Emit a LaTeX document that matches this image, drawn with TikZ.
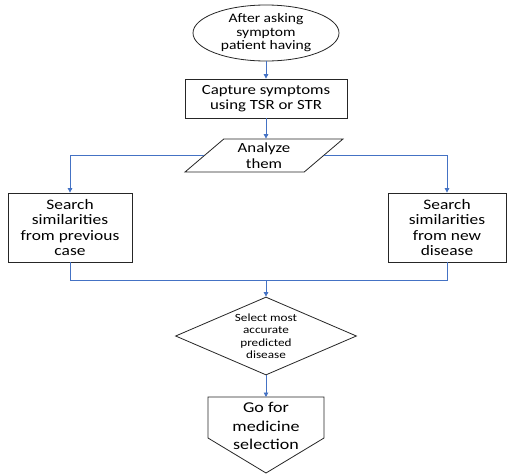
\documentclass[tikz,border=0pt]{standalone}
\usepackage{fontspec}
\setmainfont{Carlito}[FakeStretch=1.2]
\usetikzlibrary{shapes.geometric,arrows.meta}
\definecolor{lineblue}{HTML}{4472C4}
\definecolor{edge}{HTML}{262626}
\begin{document}
\begin{tikzpicture}[x=1pt,y=-1pt,
  shapebox/.style={draw=edge, line width=0.8pt, align=center, inner sep=0pt},
  flow/.style={draw=lineblue, line width=0.9pt},
  arr/.style={flow, -{Triangle[length=4.5pt,width=4.5pt]}},
]
\path[use as bounding box, fill=white] (0,0) rectangle (508,474);

\node[shapebox, ellipse, minimum width=146pt, minimum height=56pt,
  font=\fontsize{13}{13.5}\selectfont] (e) at (266,33) {After asking\\symptom\\patient having};

\node[shapebox, rectangle, minimum width=162pt, minimum height=39pt,
  font=\fontsize{14}{14.5}\selectfont] (cap) at (266,98.5) {Capture symptoms\\using TSR or STR};

\node[shapebox, trapezium, trapezium left angle=45, trapezium right angle=135,
  trapezium stretches=true, minimum width=158pt, minimum height=33pt,
  font=\fontsize{14}{15.5}\selectfont] (an) at (264,155.5) {Analyze\\them};

\node[shapebox, rectangle, minimum width=124pt, minimum height=69pt,
  font=\fontsize{14.5}{15.5}\selectfont] (lb) at (70,227.5) {Search\\similarities\\from previous\\case};

\node[shapebox, rectangle, minimum width=118pt, minimum height=69pt,
  font=\fontsize{14.5}{15.5}\selectfont] (rb) at (447,227.5) {Search\\similarities\\from new\\disease};

\node[shapebox, diamond, aspect=2.3, minimum width=181pt, minimum height=78pt,
  font=\fontsize{11}{12.5}\selectfont] (d) at (266,336) {Select most\\accurate\\predicted\\disease};

\coordinate (pnw) at (208,397);
\coordinate (pne) at (324,397);
\coordinate (pse) at (324,438);
\coordinate (psw) at (208,438);
\coordinate (ptip) at (266,473);
\coordinate (ptop) at (266,397);
\draw[draw=edge, line width=0.8pt] (pnw) -- (pne) -- (pse) -- (ptip) -- (psw) -- cycle;
\node[align=center, inner sep=0pt, font=\fontsize{15}{18.5}\selectfont] (p) at (266,426) {Go for\\medicine\\selection};

\coordinate (j) at (266,280);

\draw[arr] (e.south) -- (cap.north);
\draw[arr] (cap.south) -- (cap.south |- an.north);
\draw[arr] (an.west) -| (lb.north);
\draw[arr] (an.east) -| (rb.north);
\draw[flow] (lb.south) |- (j);
\draw[flow] (rb.south) |- (j);
\draw[arr] (j) -- (d.north);
\draw[arr] (d.south) -- (ptop);
\end{tikzpicture}
\end{document}
